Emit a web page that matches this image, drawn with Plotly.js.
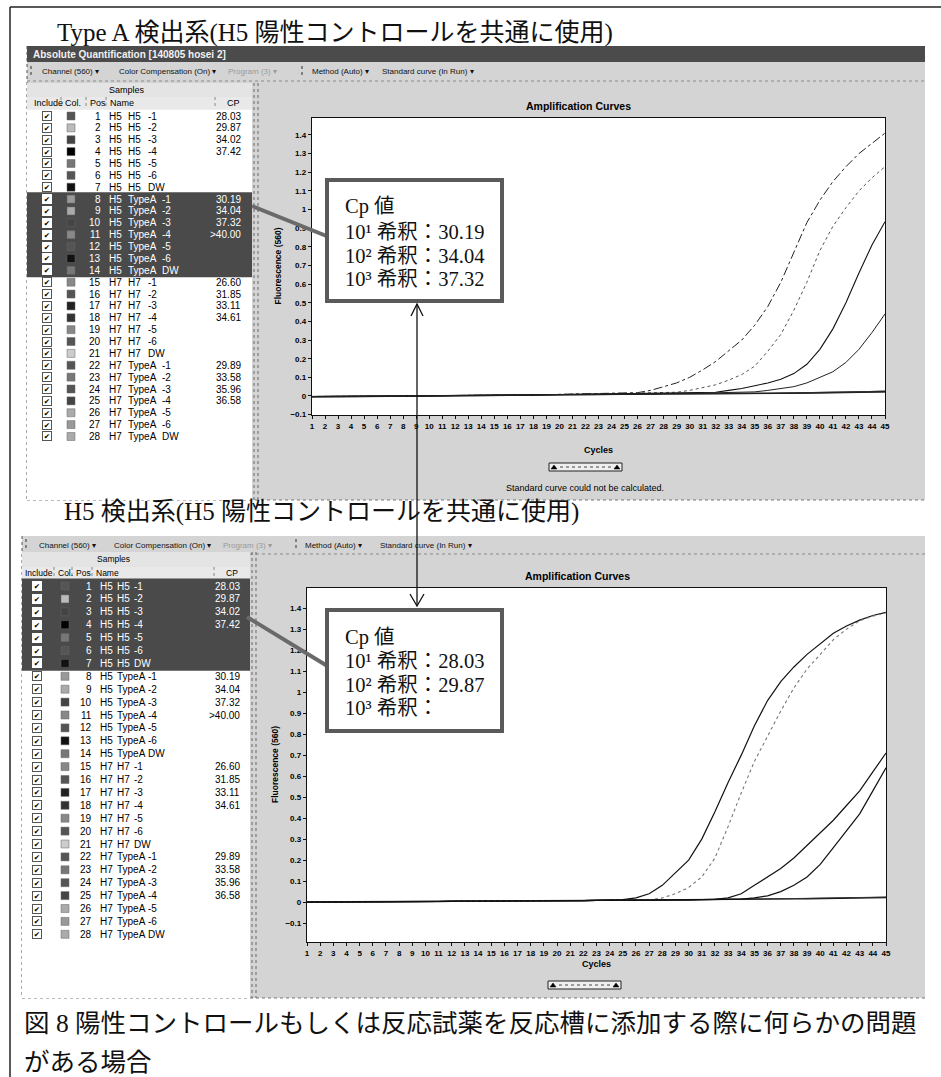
<!DOCTYPE html>
<html><head><meta charset="utf-8">
<script src="https://cdn.plot.ly/plotly-3.0.1.min.js"></script>
<style>html,body{margin:0;padding:0;background:#fff}#chart{width:941px;height:1077px}</style>
</head><body><div id="chart"></div>
<script>
// ---------------- data ----------------
const cycles = [1,2,3,4,5,6,7,8,9,10,11,12,13,14,15,16,17,18,19,20,21,22,23,24,25,26,27,28,29,30,31,32,33,34,35,36,37,38,39,40,41,42,43,44,45];

const posNumbers = [1,2,3,4,5,6,7,8,9,10,11,12,13,14,15,16,17,18,19,20,21,22,23,24,25,26,27,28];
const nameGroup  = ["H5","H5","H5","H5","H5","H5","H5","H5","H5","H5","H5","H5","H5","H5","H7","H7","H7","H7","H7","H7","H7","H7","H7","H7","H7","H7","H7","H7"];
const nameTarget = ["H5","H5","H5","H5","H5","H5","H5","TypeA","TypeA","TypeA","TypeA","TypeA","TypeA","TypeA","H7","H7","H7","H7","H7","H7","H7","TypeA","TypeA","TypeA","TypeA","TypeA","TypeA","TypeA"];
const nameSuffix = ["-1","-2","-3","-4","-5","-6","DW","-1","-2","-3","-4","-5","-6","DW","-1","-2","-3","-4","-5","-6","DW","-1","-2","-3","-4","-5","-6","DW"];
const cpValues   = ["28.03","29.87","34.02","37.42","","","","30.19","34.04","37.32",">40.00","","","","26.60","31.85","33.11","34.61","","","","29.89","33.58","35.96","36.58","","",""];
const swatchColors = ["#555","#bbb","#444","#000","#777","#555","#111","#999","#aaa","#444","#888","#555","#111","#777","#888","#555","#222","#333","#888","#555","#ccc","#555","#777","#555","#444","#aaa","#999","#aaa"];

// Type A detection system (top chart)
const topBase1 = [-0.004,-0.004,-0.003,-0.003,-0.002,-0.002,-0.001,-0.001,0.000,0.000,0.001,0.001,0.002,0.003,0.004,0.004,0.005,0.005,0.006,0.006,0.007,0.007,0.008,0.008,0.009,0.010,0.010,0.011,0.012,0.013,0.012,0.011,0.012,0.013,0.014,0.014,0.015,0.016,0.016,0.017,0.018,0.020,0.022,0.023,0.024];
const topBase2 = [-0.002,-0.002,-0.002,-0.001,-0.001,0.000,0.000,0.001,0.001,0.002,0.002,0.003,0.003,0.004,0.005,0.006,0.006,0.007,0.007,0.008,0.008,0.009,0.009,0.010,0.011,0.011,0.012,0.013,0.014,0.015,0.014,0.013,0.013,0.014,0.015,0.016,0.016,0.017,0.018,0.018,0.019,0.021,0.023,0.025,0.026];
const topBase3 = [-0.005,-0.005,-0.004,-0.004,-0.003,-0.003,-0.002,-0.002,-0.001,-0.001,0.000,0.000,0.001,0.002,0.003,0.003,0.004,0.004,0.005,0.005,0.006,0.006,0.007,0.007,0.008,0.008,0.009,0.010,0.010,0.011,0.010,0.010,0.011,0.011,0.012,0.012,0.013,0.013,0.014,0.015,0.016,0.017,0.019,0.020,0.021];
const topCurveA = [-0.003,-0.003,-0.002,-0.002,-0.001,-0.001,0.000,0.000,0.001,0.001,0.002,0.002,0.003,0.004,0.005,0.005,0.006,0.006,0.007,0.008,0.009,0.010,0.011,0.012,0.014,0.018,0.030,0.050,0.070,0.100,0.140,0.185,0.240,0.300,0.380,0.480,0.610,0.770,0.930,1.050,1.150,1.230,1.300,1.355,1.410];
const topCurveB = [-0.003,-0.003,-0.002,-0.002,-0.001,-0.001,0.000,0.000,0.001,0.001,0.002,0.002,0.003,0.004,0.005,0.005,0.006,0.006,0.007,0.008,0.009,0.010,0.010,0.011,0.012,0.013,0.014,0.016,0.020,0.030,0.045,0.060,0.085,0.115,0.160,0.240,0.330,0.460,0.610,0.780,0.910,1.010,1.100,1.170,1.230];
const topCurveC = [-0.003,-0.003,-0.002,-0.002,-0.001,-0.001,0.000,0.000,0.001,0.001,0.002,0.002,0.003,0.004,0.005,0.005,0.006,0.006,0.007,0.008,0.009,0.010,0.010,0.011,0.012,0.012,0.013,0.013,0.014,0.015,0.016,0.020,0.030,0.040,0.055,0.070,0.090,0.120,0.170,0.250,0.360,0.500,0.660,0.810,0.935];
const topCurveD = [-0.003,-0.003,-0.002,-0.002,-0.001,-0.001,0.000,0.000,0.001,0.001,0.002,0.002,0.003,0.004,0.005,0.005,0.006,0.006,0.007,0.008,0.009,0.010,0.010,0.011,0.012,0.012,0.013,0.013,0.014,0.014,0.015,0.016,0.017,0.019,0.022,0.030,0.040,0.050,0.070,0.100,0.130,0.180,0.250,0.340,0.440];

// H5 detection system (bottom chart)
const botBase1 = [0.000,0.000,0.001,0.001,0.001,0.002,0.002,0.002,0.003,0.003,0.003,0.004,0.004,0.004,0.005,0.005,0.005,0.006,0.006,0.006,0.007,0.007,0.008,0.008,0.009,0.009,0.010,0.010,0.011,0.011,0.012,0.012,0.013,0.013,0.014,0.014,0.015,0.015,0.016,0.017,0.018,0.019,0.020,0.021,0.022];
const botBase2 = [0.002,0.002,0.002,0.003,0.003,0.003,0.004,0.004,0.004,0.005,0.005,0.005,0.006,0.006,0.006,0.007,0.007,0.007,0.008,0.008,0.008,0.009,0.009,0.010,0.010,0.011,0.011,0.012,0.012,0.013,0.013,0.014,0.014,0.015,0.015,0.016,0.016,0.017,0.018,0.019,0.020,0.021,0.022,0.023,0.024];
const botCurve1 = [0.000,0.000,0.001,0.001,0.001,0.002,0.002,0.002,0.003,0.003,0.003,0.004,0.004,0.004,0.005,0.005,0.005,0.006,0.006,0.006,0.007,0.007,0.008,0.009,0.012,0.020,0.040,0.080,0.140,0.200,0.300,0.430,0.570,0.700,0.840,0.960,1.050,1.120,1.180,1.230,1.280,1.315,1.343,1.365,1.380];
const botCurve2 = [0.000,0.000,0.001,0.001,0.001,0.002,0.002,0.002,0.003,0.003,0.003,0.004,0.004,0.004,0.005,0.005,0.005,0.006,0.006,0.006,0.007,0.007,0.008,0.008,0.009,0.009,0.010,0.020,0.040,0.070,0.120,0.210,0.360,0.520,0.670,0.790,0.910,1.020,1.110,1.180,1.250,1.300,1.340,1.362,1.378];
const botCurve3 = [0.000,0.000,0.001,0.001,0.001,0.002,0.002,0.002,0.003,0.003,0.003,0.004,0.004,0.004,0.005,0.005,0.005,0.006,0.006,0.006,0.007,0.007,0.008,0.008,0.009,0.009,0.010,0.010,0.011,0.011,0.012,0.013,0.020,0.040,0.080,0.120,0.160,0.210,0.270,0.330,0.390,0.460,0.530,0.620,0.710];
const botCurve4 = [0.000,0.000,0.001,0.001,0.001,0.002,0.002,0.002,0.003,0.003,0.003,0.004,0.004,0.004,0.005,0.005,0.005,0.006,0.006,0.006,0.007,0.007,0.008,0.008,0.009,0.009,0.010,0.010,0.011,0.011,0.012,0.012,0.013,0.014,0.020,0.030,0.050,0.080,0.120,0.180,0.260,0.340,0.420,0.530,0.640];

// texts
const heading1 = "Type A 検出系(H5 陽性コントロールを共通に使用)";
const heading2 = "H5 検出系(H5 陽性コントロールを共通に使用)";
const caption1 = "図 8 陽性コントロールもしくは反応試薬を反応槽に添加する際に何らかの問題";
const caption2 = "がある場合";
const box1Lines = ["Cp 値", "10¹ 希釈：30.19", "10² 希釈：34.04", "10³ 希釈：37.32"];
const box2Lines = ["Cp 値", "10¹ 希釈：28.03", "10² 希釈：29.87", "10³ 希釈："];

// ---------------- helpers ----------------
const W = 941, H = 1077;
const X = v => v / W, Y = v => 1 - v / H;
const SANS = "Liberation Sans, Arial, sans-serif";
const SERIF = "Liberation Serif, Noto Sans CJK JP, serif";
const ann = [], shp = [];
function T(x, y, text, o) {
  const a = {xref:'paper', yref:'paper', x:X(x), y:Y(y), text:text, showarrow:false,
    xanchor:'left', yanchor:'middle', font:{family:SANS, size:10, color:'#000'}};
  ann.push(Object.assign(a, o || {}));
}
function R(x0, y0, x1, y1, fill, lc, lw, layer, dash) {
  shp.push({type:'rect', xref:'paper', yref:'paper', x0:X(x0), x1:X(x1), y0:Y(y1), y1:Y(y0),
    fillcolor: fill || 'rgba(0,0,0,0)', line:{color: lc || 'rgba(0,0,0,0)', width: lw || 0, dash: dash || 'solid'},
    layer: layer || 'below'});
}
function L(x0, y0, x1, y1, c, w, dash, layer) {
  shp.push({type:'line', xref:'paper', yref:'paper', x0:X(x0), x1:X(x1), y0:Y(y0), y1:Y(y1),
    line:{color:c, width:w, dash: dash || 'solid'}, layer: layer || 'below'});
}
function P(pts, c, w, fill, layer) {
  const d = pts.map((p, i) => (i ? 'L' : 'M') + X(p[0]) + ',' + Y(p[1])).join(' ') + (fill ? ' Z' : '');
  shp.push({type:'path', xref:'paper', yref:'paper', path:d, line:{color:c, width:w},
    fillcolor: fill || 'rgba(0,0,0,0)', layer: layer || 'above'});
}

// ---------------- page frame + headings ----------------
L(10, 7, 10, 1077, '#222', 1.5);
L(10, 7, 941, 7, '#222', 1.5);
const headFont = {family:SERIF, size:25, color:'#111'};
T(55, 33, heading1, {font:headFont});
T(62, 512, heading2, {font:headFont});
T(22, 1023, caption1, {font:{family:SERIF, size:25.5, color:'#111'}});
T(22, 1062, caption2, {font:{family:SERIF, size:25.5, color:'#111'}});

// ---------------- screenshot panels ----------------
function screenshot(cfg) {
  const {left, top, bottom, right, tbY, tabRight, plot, rowY0, rowDy, hl, col, hdrY, smpY, titleBar} = cfg;
  R(left, top, right, bottom, '#d4d4d4');
  if (titleBar) {
    R(left, top, right, top + 16, '#4b4b4b');
    T(left + 4, top + 8, 'Absolute Quantification [140805 hosei 2]', {font:{family:SANS, size:10, color:'#f2f2f2', weight:'bold'}});
  }
  L(left, tbY + 9, right, tbY + 9, '#8a8a8a', 1, 'dot');
  L(left, top, left, bottom, '#555', 1, 'dot');
  L(left, bottom, right, bottom, '#777', 1, 'dot');
  L(left + 4, tbY - 6, left + 4, tbY + 6, '#666', 1.5, 'dot');
  L(cfg.sep, tbY - 6, cfg.sep, tbY + 6, '#666', 1.5, 'dot');
  // table
  R(left, smpY - 7, tabRight, hdrY - 6.5, '#e4e4e4');
  R(left, hdrY - 6.5, tabRight, hdrY + 6.5, '#e9e9e9');
  R(left, hdrY + 6.5, tabRight, bottom, '#ffffff');
  L(tabRight + 2, smpY - 7, tabRight + 2, bottom, '#666', 1, 'dot');
  L(tabRight + 6, smpY - 7, tabRight + 6, bottom, '#666', 1, 'dot');
  const hy0 = rowY0 + hl[0] * rowDy - rowDy / 2 - 1, hy1 = rowY0 + hl[1] * rowDy + rowDy / 2 + 1;
  R(left, hy0, tabRight, hy1, '#4a4a4a');
  // plot area
  R(plot[0], plot[1], plot[2], plot[3], '#ffffff');
  const hf = {family:SANS, size:cfg.hdrSize, color:'#000'};
  T(col.smp, smpY, 'Samples', {xanchor:'center', font:hf});
  T(col.hInc, hdrY, 'Include', {font:hf});
  T(col.hCol, hdrY, 'Col.', {font:hf});
  T(col.hPos, hdrY, 'Pos', {font:hf});
  T(col.hName, hdrY, 'Name', {font:hf});
  T(col.cp - 10, hdrY, 'CP', {xanchor:'center', font:hf});
  [col.hCol - 2, col.hPos - 2, col.hName - 2, col.cp - 28].forEach(x => L(x, hdrY - 6, x, hdrY + 6, '#888', 1, 'dot'));
  for (let i = 0; i < posNumbers.length; i++) {
    const y = rowY0 + i * rowDy;
    const on = i >= hl[0] && i <= hl[1];
    const fc = on ? '#ffffff' : '#000000';
    const f = {family:SANS, size:10, color:fc};
    T(col.chk, y, '✔', {xanchor:'center', bgcolor:'#ffffff', bordercolor: on ? '#ffffff' : '#555', borderwidth:1,
      width:8, height:8, borderpad:0, font:{family:'DejaVu Sans', size:7.5, color:'#000'}});
    R(col.sw - 4, y - 4, col.sw + 4, y + 4, swatchColors[i], '#666', 0.5);
    T(col.pos, y, String(posNumbers[i]), {xanchor:'right', font:f});
    T(col.g, y, nameGroup[i], {font:f});
    T(col.t, y, nameTarget[i], {font:f});
    T(nameTarget[i] === 'TypeA' ? col.sT : col.sH, y, nameSuffix[i], {font:f});
    if (cpValues[i]) T(col.cp, y, cpValues[i], {xanchor:'right', font:f});
  }
  // toolbar
  const tf = {family:SANS, size:8, color:'#111'};
  cfg.tools.forEach(t => T(t[0], tbY, t[1], {font: t[2] ? {family:SANS, size:8, color:'#9a9a9a'} : tf}));
  // chart labels
  const pc = (plot[0] + plot[2]) / 2;
  T(cfg.ampX, plot[1] - 12, 'Amplification Curves', {xanchor:'center', font:{family:SANS, size:10.5, color:'#000', weight:'bold'}});
  T(pc, cfg.cycY, 'Cycles', {xanchor:'center', font:{family:SANS, size:9, color:'#000', weight:'bold'}});
  T(cfg.fluX, (plot[1] + plot[3]) / 2, 'Fluorescence (560)', {xanchor:'center', textangle:-90, font:{family:SANS, size:8.5, color:'#000', weight:'bold'}});
  const sx = cfg.scroll[0], sy = cfg.scroll[1];
  R(sx, sy, sx + 73, sy + 8, '#efefef', '#222', 1);
  P([[sx + 2, sy + 6], [sx + 5, sy + 2], [sx + 8, sy + 6]], '#000', 0.5, '#000', 'below');
  P([[sx + 65, sy + 6], [sx + 68, sy + 2], [sx + 71, sy + 6]], '#000', 0.5, '#000', 'below');
  L(sx + 11, sy + 4, sx + 62, sy + 4, '#444', 1, 'dot');
}

screenshot({left:27, top:46, bottom:500, right:925, tbY:72, tabRight:252, sep:302,
  plot:[312,118,885,415], rowY0:116, rowDy:11.87, hl:[7,13], hdrY:103, smpY:90, hdrSize:9,
  col:{smp:127, hInc:32, hCol:63, hPos:88, hName:108, chk:47, sw:71, pos:103, g:107, t:126, sH:146, sT:160, cp:243},
  titleBar:true, ampX:578, cycY:450, fluX:278, scroll:[549,463],
  tools:[[40,'Channel (560) ▾'],[117,'Color Compensation (On) ▾'],[226,'Program (3) ▾',true],[310,'Method (Auto) ▾'],[380,'Standard curve (In Run) ▾']]});
T(585, 488, 'Standard curve could not be calculated.', {xanchor:'center', font:{family:SANS, size:9, color:'#000'}});

screenshot({left:22, top:536, bottom:998, right:925, tbY:545, tabRight:250, sep:296,
  plot:[307,588,886,942], rowY0:586, rowDy:12.9, hl:[0,6], hdrY:573, smpY:559, hdrSize:8.5,
  col:{smp:113, hInc:23, hCol:56, hPos:74, hName:94, chk:37, sw:65, pos:94, g:98, t:115, sH:132, sT:146, cp:242},
  titleBar:false, ampX:577, cycY:964, fluX:275, scroll:[548,981],
  tools:[[37,'Channel (560) ▾'],[112,'Color Compensation (On) ▾'],[221,'Program (3) ▾',true],[303,'Method (Auto) ▾'],[378,'Standard curve (In Run) ▾']]});

// ---------------- callouts ----------------
L(252, 206, 329, 237, '#6a6a6a', 4, 'solid', 'above');
L(247, 617, 329, 667, '#6a6a6a', 4, 'solid', 'above');
R(327, 180, 502, 301, '#ffffff', '#5a5a5a', 4, 'above');
R(327, 610, 502, 731, '#ffffff', '#5a5a5a', 4, 'above');
L(417, 304, 417, 606, '#111', 1.3, 'solid', 'above');
P([[411,316],[417,304],[423,316]], '#111', 1.3);
P([[410,594],[417,606],[424,594]], '#111', 1.3);
const boxFont = {family:SERIF, size:20.5, color:'#111'};
const lineY1 = [207, 232, 256, 279], lineY2 = [637, 661, 685, 708];
box1Lines.forEach((t, i) => T(343, lineY1[i], t, {font:boxFont}));
box2Lines.forEach((t, i) => T(343, lineY2[i], t, {font:boxFont}));

// ---------------- traces ----------------
function tr(y, ax, dash, color, w) {
  return {type:'scatter', mode:'lines', x:cycles, y:y, xaxis:ax[0], yaxis:ax[1],
    line:{color:color, width:w, dash:dash}, hoverinfo:'skip'};
}
const A1 = ['x','y'], A2 = ['x2','y2'];
const data = [
  tr(topBase1, A1, 'solid', '#111', 1.3), tr(topBase2, A1, 'solid', '#333', 1), tr(topBase3, A1, 'solid', '#222', 1),
  tr(topCurveA, A1, 'dashdot', '#222', 1), tr(topCurveB, A1, 'dot', '#555', 1),
  tr(topCurveC, A1, 'solid', '#111', 1.1), tr(topCurveD, A1, 'solid', '#222', 1),
  tr(botBase1, A2, 'solid', '#111', 1.3), tr(botBase2, A2, 'solid', '#333', 1),
  tr(botCurve1, A2, 'solid', '#111', 1.2), tr(botCurve2, A2, 'dot', '#777', 1.1),
  tr(botCurve3, A2, 'solid', '#111', 1.2), tr(botCurve4, A2, 'solid', '#111', 1.2)
];

const tickF = {family:SANS, size:8, color:'#000', weight:'bold'};
function xa(dom, anchor) {
  return {domain:dom, anchor:anchor, range:[1,45], tick0:1, dtick:1, tickangle:0, showgrid:false, zeroline:false,
    showline:true, mirror:true, linecolor:'#111', linewidth:1.2, ticks:'outside', ticklen:3, tickcolor:'#111',
    tickfont:tickF, automargin:false, fixedrange:true};
}
function ya(dom, anchor, rng) {
  return {domain:dom, anchor:anchor, range:rng, tick0:0, dtick:0.1, showgrid:false, zeroline:false,
    showline:true, mirror:true, linecolor:'#111', linewidth:1.2, ticks:'outside', ticklen:3, tickcolor:'#111',
    tickfont:tickF, automargin:false, fixedrange:true};
}
const layout = {
  width:W, height:H, margin:{l:0, r:0, t:0, b:0}, paper_bgcolor:'#ffffff', plot_bgcolor:'rgba(0,0,0,0)',
  showlegend:false,
  xaxis: xa([X(312), X(885)], 'y'),
  yaxis: ya([Y(415), Y(118)], 'x', [-0.102, 1.491]),
  xaxis2: xa([X(307), X(886)], 'y2'),
  yaxis2: ya([Y(942), Y(588)], 'x2', [-0.19, 1.496]),
  shapes: shp, annotations: ann
};
Plotly.newPlot('chart', data, layout, {staticPlot:true, displayModeBar:false});
</script>
</body></html>
